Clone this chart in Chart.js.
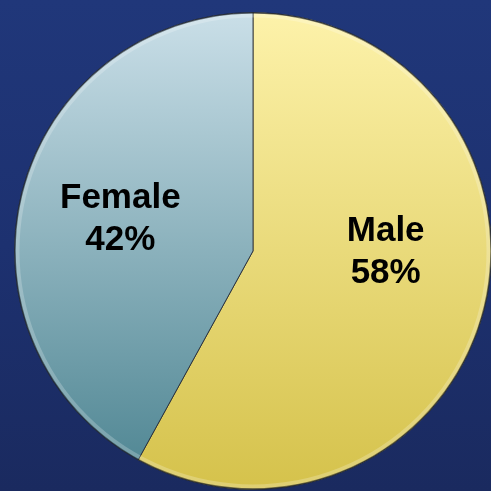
<!DOCTYPE html>
<html>
<head>
<meta charset="utf-8">
<script src="https://cdn.jsdelivr.net/npm/chart.js@4"></script>
<style>
  html, body { margin: 0; padding: 0; overflow: hidden; }
  body {
    width: 491px; height: 491px;
    background: linear-gradient(180deg, #20377a 0%, #1d3170 50%, #1a2a5f 100%);
  }
  #wrap { position: absolute; left: 0; top: 0; width: 500px; height: 500px; }
</style>
</head>
<body>
<div id="wrap"><canvas id="pie"></canvas></div>
<script>
// Gender split of respondents
const categories = ['Male', 'Female'];
const shares = [58, 42];
const percentLabels = ['58%', '42%'];

// top / bottom tones of each slice's vertical shading
const sliceTones = [
  ['#fdf2aa', '#d5c24b'],
  ['#cadfe8', '#4b8390']
];

function sliceFill(ctx) {
  const chart = ctx.chart;
  const area = chart.chartArea;
  if (!area) return sliceTones[ctx.dataIndex][0];
  const g = chart.ctx.createLinearGradient(0, area.top, 0, area.bottom);
  g.addColorStop(0, sliceTones[ctx.dataIndex][0]);
  g.addColorStop(1, sliceTones[ctx.dataIndex][1]);
  return g;
}

// Soft bevel along the pie's outer rim
const rimBevel = {
  id: 'rimBevel',
  afterDatasetsDraw(chart) {
    const arc = chart.getDatasetMeta(0).data[0];
    if (!arc) return;
    const p = arc.getProps(['x', 'y', 'outerRadius'], true);
    const ctx = chart.ctx;
    ctx.save();
    ctx.beginPath();
    ctx.arc(p.x, p.y, p.outerRadius - 3, 0, Math.PI * 2);
    ctx.strokeStyle = 'rgba(255,255,255,0.22)';
    ctx.lineWidth = 4;
    ctx.stroke();
    ctx.beginPath();
    ctx.arc(p.x, p.y, p.outerRadius - 0.5, 0, Math.PI * 2);
    ctx.strokeStyle = 'rgba(30,35,45,0.55)';
    ctx.lineWidth = 1.5;
    ctx.stroke();
    ctx.restore();
  }
};

// Draws "name / percent" text inside each slice
const sliceText = {
  id: 'sliceText',
  afterDatasetsDraw(chart, args, opts) {
    const ctx = chart.ctx;
    const meta = chart.getDatasetMeta(0);
    ctx.save();
    ctx.fillStyle = '#000';
    ctx.font = 'bold 35px "Liberation Sans", Arial, sans-serif';
    ctx.textAlign = 'center';
    ctx.textBaseline = 'middle';
    meta.data.forEach((arc, i) => {
      const p = arc.getProps(['x', 'y', 'startAngle', 'endAngle', 'outerRadius'], true);
      const mid = (p.startAngle + p.endAngle) / 2;
      const r = p.outerRadius * opts.radiusFraction;
      const off = opts.offsets[i];
      const cx = p.x + Math.cos(mid) * r + off[0];
      const cy = p.y + Math.sin(mid) * r + off[1];
      const gap = opts.lineGap / 2;
      ctx.fillText(categories[i], cx, cy - gap);
      ctx.fillText(percentLabels[i], cx, cy + gap);
    });
    ctx.restore();
  }
};

new Chart(document.getElementById('pie'), {
  type: 'pie',
  data: {
    labels: categories,
    datasets: [{
      data: shares,
      backgroundColor: sliceFill,
      borderColor: 'rgba(40, 45, 55, 0.85)',
      borderWidth: 1
    }]
  },
  options: {
    responsive: true,
    maintainAspectRatio: false,
    animation: false,
    rotation: 0,
    layout: { padding: { left: 14, top: 12, right: 8, bottom: 10 } },
    plugins: {
      legend: { display: false },
      tooltip: { enabled: false },
      sliceText: { radiusFraction: 0.57, offsets: [[1, -32], [-1, 2]], lineGap: 42 }
    }
  },
  plugins: [rimBevel, sliceText]
});
</script>
</body>
</html>
